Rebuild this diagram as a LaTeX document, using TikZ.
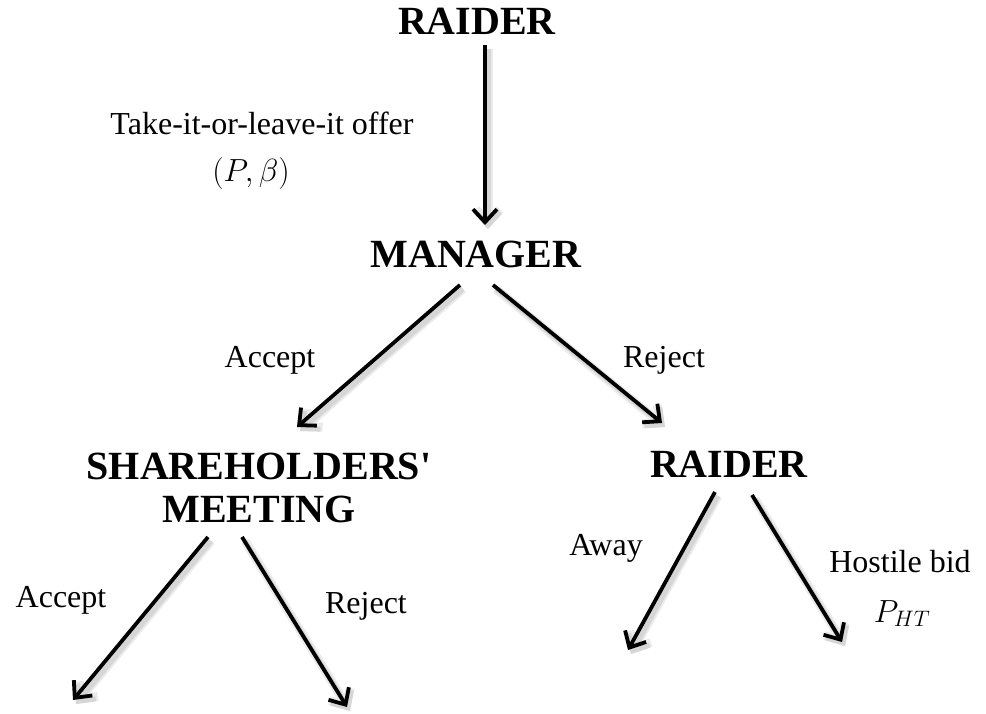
\RequirePackage{fix-cm}
\documentclass[tikz,border=0pt]{standalone}
\usepackage{fontspec}
\setmainfont{Liberation Serif}
\usepackage{tikz}
\usetikzlibrary{calc}
\usetikzlibrary{arrows.meta,positioning}

\begin{document}
\begin{tikzpicture}
  [x=1pt,y=-1pt,
   player/.style={inner sep=0,font=\bfseries\fontsize{40}{43}\selectfont},
   act/.style={inner sep=0,anchor=base,font=\fontsize{32}{36}\selectfont},
   move/.style={line width=3.8pt,-{Straight Barb[length=13pt,width=24pt]},
     preaction={draw=black!8,line width=9pt,transform canvas={shift={(3pt,-4pt)}}},
     preaction={draw=black!16,line width=5pt,transform canvas={shift={(3pt,-4pt)}}}}]
  \useasboundingbox (0,0) rectangle (986,714);

  \node[player,anchor=base] (r1)  at (477,35)  {RAIDER};
  \node[player,anchor=base] (mgr) at (476,268) {MANAGER};
  \node[player,align=center] (sh) at (259,488) {SHAREHOLDERS\textquotesingle\\MEETING};
  \node[player,anchor=base] (r2)  at (729,477) {RAIDER};

  \node[act] (offer) at (262,135) {Take-it-or-leave-it offer};
  \node[act] (pb)    at (251,182) {$(P,\beta)$};
  \node[act] (acc1)  at (270,367) {Accept};
  \node[act] (rej1)  at (664,367) {Reject};
  \node[act] (acc2)  at (61,607)  {Accept};
  \node[act] (rej2)  at (366,613) {Reject};
  \node[act] (away)  at (606,555) {Away};
  \node[act] (hbid)  at (900,572) {Hostile bid};
  \node[act] (pht)   at (902,622) {$P_{HT}$};

  \coordinate (shacc) at (73,700);
  \coordinate (shrej) at (347,707);
  \coordinate (rdaway) at (628,650);
  \coordinate (rdbid) at (842,642);

  \draw[move] ($(r1.base)+(8,10)$) -- ($(mgr.base)+(9,-43)$);
  \draw[move] ($(mgr.base)+(-16,17)$) -- ($(sh.center)+(38,-61)$);
  \draw[move] ($(mgr.base)+(17,17)$) -- ($(r2.base)+(-67,-54)$);
  \draw[move] ($(sh.center)+(-51,49)$) -- (shacc);
  \draw[move] ($(sh.center)+(-17,49)$) -- (shrej);
  \draw[move] ($(r2.base)+(-14,15)$) -- (rdaway);
  \draw[move] ($(r2.base)+(23,18)$) -- (rdbid);
\end{tikzpicture}
\end{document}
